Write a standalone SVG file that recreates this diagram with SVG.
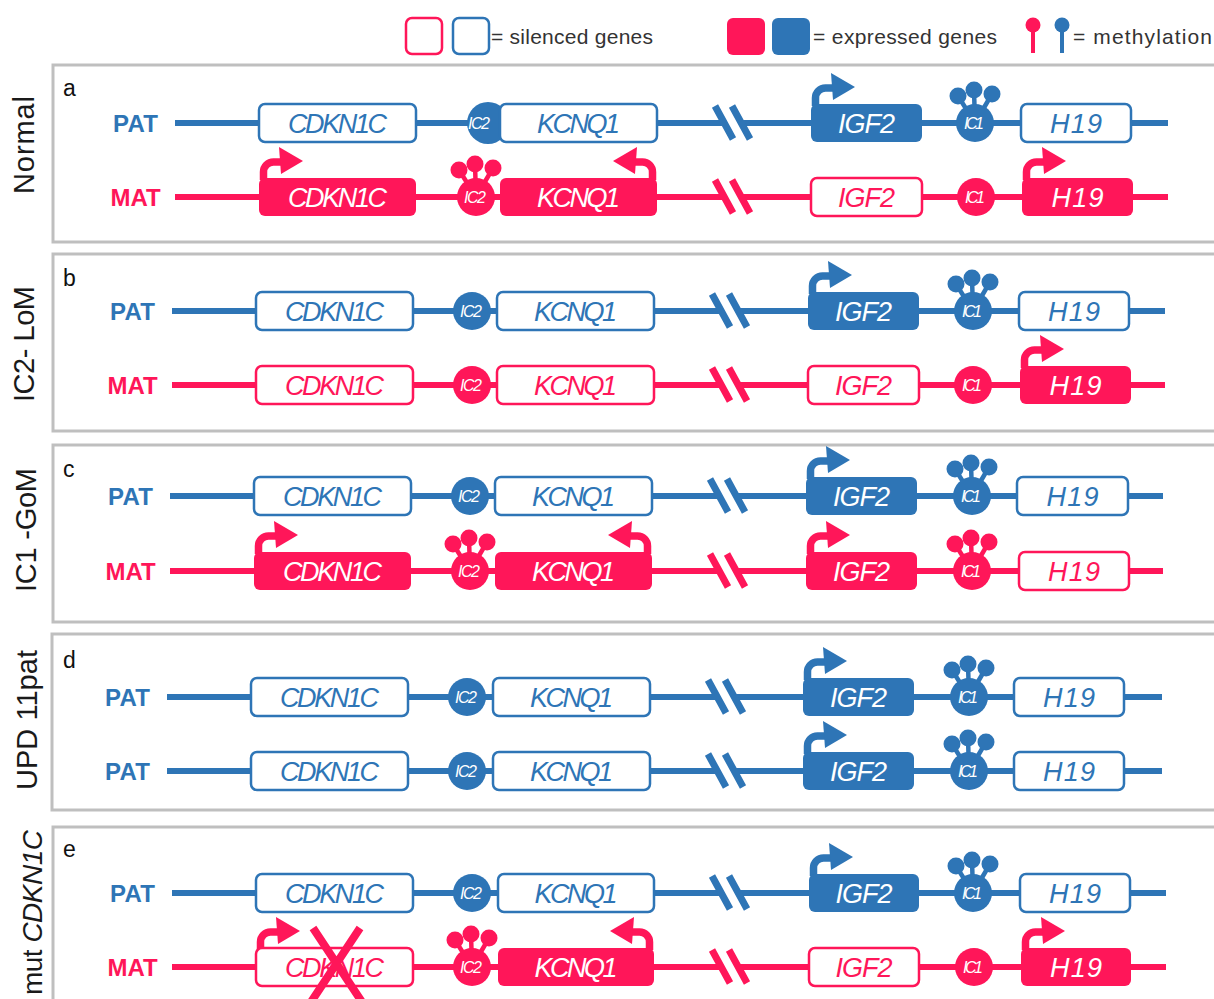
<svg xmlns="http://www.w3.org/2000/svg" xmlns:xlink="http://www.w3.org/1999/xlink" width="1214" height="999" viewBox="0 0 1214 999">
<style>
text{font-family:"Liberation Sans",Arial,sans-serif}
.frame{fill:none;stroke:#BFBFBF;stroke-width:3}
.side{font-size:29px;fill:#1a1a1a;text-anchor:middle}
.plet{font-size:23px;fill:#111}
.lab{font-size:24px;font-weight:bold;text-anchor:middle}
.leg{font-size:21px;fill:#333}
.gt{font-size:27px;font-style:italic;text-anchor:middle}
.ict{font-size:16px;font-style:italic;fill:#fff;text-anchor:middle}
.tb{fill:#2E75B6}.tp{fill:#FF1659}.tw{fill:#fff}
.lb{stroke:#2E75B6;fill:none;stroke-width:6}
.lp{stroke:#FF1659;fill:none;stroke-width:6}
.sb{stroke:#2E75B6;fill:none;stroke-width:7}
.sp{stroke:#FF1659;fill:none;stroke-width:7}
.ob{fill:#fff;stroke:#2E75B6;stroke-width:2.5}
.op{fill:#fff;stroke:#FF1659;stroke-width:2.5}
.fb{fill:#2E75B6}.fp{fill:#FF1659}
.ub{fill:#2E75B6;stroke:#2E75B6}.up{fill:#FF1659;stroke:#FF1659}
</style>
<defs>
<g id="arR"><path d="M4.5,2 V-6 A10,10 0 0 1 14.5,-16 H24" fill="none" stroke-width="7.5"/><polygon points="20,-31 44,-17 22,-4" stroke="none"/></g>
<g id="meth"><path d="M0,0 L-17,-27 M0,0 L-1,-33 M0,0 L17,-29" fill="none" stroke-width="4.5"/><circle cx="-17" cy="-27" r="8.5" stroke="none"/><circle cx="-1" cy="-33" r="8.5" stroke="none"/><circle cx="17" cy="-29" r="8.5" stroke="none"/></g>
</defs>

<!-- Legend -->
<g id="legend">
<rect x="406" y="18" width="36" height="36" rx="6" class="op"/>
<rect x="453" y="18" width="36" height="36" rx="6" class="ob"/>
<text x="491" y="44" class="leg" textLength="162">= silenced genes</text>
<rect x="727" y="18" width="38" height="37" rx="6" class="fp"/>
<rect x="772" y="18" width="38" height="37" rx="6" class="fb"/>
<text x="813" y="44" class="leg" textLength="184">= expressed genes</text>
<line x1="1033" y1="26" x2="1033" y2="53" stroke="#FF1659" stroke-width="4"/>
<circle cx="1033" cy="25" r="7.5" class="fp"/>
<line x1="1062" y1="26" x2="1062" y2="53" stroke="#2E75B6" stroke-width="4"/>
<circle cx="1062" cy="25" r="7.5" class="fb"/>
<text x="1073" y="44" class="leg" textLength="139">= methylation</text>
</g>

<!-- Side labels -->
<g id="side-labels">
<text class="side" transform="translate(34,145) rotate(-90)" textLength="98">Normal</text>
<text class="side" transform="translate(34,344) rotate(-90)" textLength="116">IC2- LoM</text>
<text class="side" transform="translate(36,530) rotate(-90)" textLength="124">IC1 -GoM</text>
<text class="side" transform="translate(37,720) rotate(-90)" textLength="140">UPD 11pat</text>
<text class="side" style="text-anchor:end;font-size:28px" transform="translate(42,830) rotate(-90)" textLength="165">mut <tspan font-style="italic">CDKN1C</tspan></text>
</g>

<!-- Frames -->
<g id="frames">
<rect x="53" y="65" width="1200" height="177" class="frame"/>
<rect x="53" y="254" width="1200" height="177" class="frame"/>
<rect x="53" y="445" width="1200" height="177" class="frame"/>
<rect x="52" y="634" width="1200" height="176" class="frame"/>
<rect x="53" y="827" width="1200" height="200" class="frame"/>
<text x="63" y="96" class="plet">a</text>
<text x="63" y="286" class="plet">b</text>
<text x="63" y="477" class="plet">c</text>
<text x="63" y="668" class="plet">d</text>
<text x="63" y="857" class="plet">e</text>
</g>

<!-- Panel a -->
<g id="panel-a" transform="translate(0,123)">
<g id="a-connectors">
<path class="lb" d="M175,0 H724 M741,0 H1168"/>
<path class="sb" d="M715,-17 L733,16 M732,-17 L750,16"/>
<path class="lp" d="M175,74 H724 M741,74 H1168"/>
<path class="sp" d="M715,57 L733,90 M732,57 L750,90"/>
</g>
<text x="135.5" y="9" class="lab tb" textLength="45">PAT</text>
<text x="135.5" y="83" class="lab tp">MAT</text>
<g id="a-pat-cdkn1c"><rect x="259" y="-19" width="157" height="38" rx="6" class="ob"/><text x="337.5" y="10" class="gt tb" textLength="99">CDKN1C</text></g>
<g id="a-pat-ic2"><circle cx="488" cy="0" r="21" class="fb"/><text x="479" y="5.5" class="ict" textLength="22">IC2</text></g>
<g id="a-pat-kcnq1"><rect x="500" y="-19" width="157" height="38" rx="6" class="ob"/><text x="578.5" y="10" class="gt tb" textLength="83">KCNQ1</text></g>
<g id="a-pat-igf2"><use href="#arR" transform="translate(811,-19)" class="ub"/><rect x="811" y="-19" width="111" height="38" rx="6" class="fb"/><text x="866.5" y="10" class="gt tw" textLength="57">IGF2</text></g>
<g id="a-pat-ic1"><use href="#meth" x="975" y="0" class="ub"/><circle cx="975" cy="0" r="19" class="fb"/><text x="974" y="5.5" class="ict" textLength="20">IC1</text></g>
<g id="a-pat-h19"><rect x="1021" y="-19" width="110" height="38" rx="6" class="ob"/><text x="1076" y="10" class="gt tb" textLength="52">H19</text></g>

<g id="a-mat-cdkn1c"><use href="#arR" transform="translate(259,55)" class="up"/><rect x="259" y="55" width="157" height="38" rx="6" class="fp"/><text x="337.5" y="84" class="gt tw" textLength="99">CDKN1C</text></g>
<g id="a-mat-ic2"><use href="#meth" x="476" y="74" class="up"/><circle cx="476" cy="74" r="19" class="fp"/><text x="475" y="79.5" class="ict" textLength="22">IC2</text></g>
<g id="a-mat-kcnq1"><use href="#arR" transform="translate(657,55) scale(-1,1)" class="up"/><rect x="500" y="55" width="157" height="38" rx="6" class="fp"/><text x="578.5" y="84" class="gt tw" textLength="83">KCNQ1</text></g>
<g id="a-mat-igf2"><rect x="811" y="55" width="111" height="38" rx="6" class="op"/><text x="866.5" y="84" class="gt tp" textLength="57">IGF2</text></g>
<g id="a-mat-ic1"><circle cx="976" cy="74" r="19" class="fp"/><text x="975" y="79.5" class="ict" textLength="20">IC1</text></g>
<g id="a-mat-h19"><use href="#arR" transform="translate(1022,55)" class="up"/><rect x="1022" y="55" width="111" height="38" rx="6" class="fp"/><text x="1077.5" y="84" class="gt tw" textLength="52">H19</text></g>
</g>

<!-- Panel b -->
<g id="panel-b" transform="translate(-3,311)">
<g id="b-connectors">
<path class="lb" d="M175,0 H724 M741,0 H1168"/>
<path class="sb" d="M715,-17 L733,16 M732,-17 L750,16"/>
<path class="lp" d="M175,74 H724 M741,74 H1168"/>
<path class="sp" d="M715,57 L733,90 M732,57 L750,90"/>
</g>
<text x="135.5" y="9" class="lab tb" textLength="45">PAT</text>
<text x="135.5" y="83" class="lab tp">MAT</text>
<g id="b-pat-cdkn1c"><rect x="259" y="-19" width="157" height="38" rx="6" class="ob"/><text x="337.5" y="10" class="gt tb" textLength="99">CDKN1C</text></g>
<g id="b-pat-ic2"><circle cx="475" cy="0" r="19" class="fb"/><text x="474" y="5.5" class="ict" textLength="22">IC2</text></g>
<g id="b-pat-kcnq1"><rect x="500" y="-19" width="157" height="38" rx="6" class="ob"/><text x="578.5" y="10" class="gt tb" textLength="83">KCNQ1</text></g>
<g id="b-pat-igf2"><use href="#arR" transform="translate(811,-19)" class="ub"/><rect x="811" y="-19" width="111" height="38" rx="6" class="fb"/><text x="866.5" y="10" class="gt tw" textLength="57">IGF2</text></g>
<g id="b-pat-ic1"><use href="#meth" x="976" y="0" class="ub"/><circle cx="976" cy="0" r="19" class="fb"/><text x="975" y="5.5" class="ict" textLength="20">IC1</text></g>
<g id="b-pat-h19"><rect x="1022" y="-19" width="110" height="38" rx="6" class="ob"/><text x="1077" y="10" class="gt tb" textLength="52">H19</text></g>

<g id="b-mat-cdkn1c"><rect x="259" y="55" width="157" height="38" rx="6" class="op"/><text x="337.5" y="84" class="gt tp" textLength="99">CDKN1C</text></g>
<g id="b-mat-ic2"><circle cx="475" cy="74" r="19" class="fp"/><text x="474" y="79.5" class="ict" textLength="22">IC2</text></g>
<g id="b-mat-kcnq1"><rect x="500" y="55" width="157" height="38" rx="6" class="op"/><text x="578.5" y="84" class="gt tp" textLength="83">KCNQ1</text></g>
<g id="b-mat-igf2"><rect x="811" y="55" width="111" height="38" rx="6" class="op"/><text x="866.5" y="84" class="gt tp" textLength="57">IGF2</text></g>
<g id="b-mat-ic1"><circle cx="976" cy="74" r="19" class="fp"/><text x="975" y="79.5" class="ict" textLength="20">IC1</text></g>
<g id="b-mat-h19"><use href="#arR" transform="translate(1023,55)" class="up"/><rect x="1023" y="55" width="111" height="38" rx="6" class="fp"/><text x="1078.5" y="84" class="gt tw" textLength="52">H19</text></g>
</g>

<!-- Panel c -->
<g id="panel-c" transform="translate(-5,496)">
<g id="c-connectors">
<path class="lb" d="M175,0 H724 M741,0 H1168"/>
<path class="sb" d="M715,-17 L733,16 M732,-17 L750,16"/>
<path class="lp" d="M175,75 H724 M741,75 H1168"/>
<path class="sp" d="M715,58 L733,91 M732,58 L750,91"/>
</g>
<text x="135.5" y="9" class="lab tb" textLength="45">PAT</text>
<text x="135.5" y="84" class="lab tp">MAT</text>
<g id="c-pat-cdkn1c"><rect x="259" y="-19" width="157" height="38" rx="6" class="ob"/><text x="337.5" y="10" class="gt tb" textLength="99">CDKN1C</text></g>
<g id="c-pat-ic2"><circle cx="475" cy="0" r="19" class="fb"/><text x="474" y="5.5" class="ict" textLength="22">IC2</text></g>
<g id="c-pat-kcnq1"><rect x="500" y="-19" width="157" height="38" rx="6" class="ob"/><text x="578.5" y="10" class="gt tb" textLength="83">KCNQ1</text></g>
<g id="c-pat-igf2"><use href="#arR" transform="translate(811,-19)" class="ub"/><rect x="811" y="-19" width="111" height="38" rx="6" class="fb"/><text x="866.5" y="10" class="gt tw" textLength="57">IGF2</text></g>
<g id="c-pat-ic1"><use href="#meth" x="977" y="0" class="ub"/><circle cx="977" cy="0" r="19" class="fb"/><text x="976" y="5.5" class="ict" textLength="20">IC1</text></g>
<g id="c-pat-h19"><rect x="1022" y="-19" width="111" height="38" rx="6" class="ob"/><text x="1077.5" y="10" class="gt tb" textLength="52">H19</text></g>

<g id="c-mat-cdkn1c"><use href="#arR" transform="translate(259,56)" class="up"/><rect x="259" y="56" width="157" height="38" rx="6" class="fp"/><text x="337.5" y="85" class="gt tw" textLength="99">CDKN1C</text></g>
<g id="c-mat-ic2"><use href="#meth" x="475" y="75" class="up"/><circle cx="475" cy="75" r="19" class="fp"/><text x="474" y="80.5" class="ict" textLength="22">IC2</text></g>
<g id="c-mat-kcnq1"><use href="#arR" transform="translate(657,56) scale(-1,1)" class="up"/><rect x="500" y="56" width="157" height="38" rx="6" class="fp"/><text x="578.5" y="85" class="gt tw" textLength="83">KCNQ1</text></g>
<g id="c-mat-igf2"><use href="#arR" transform="translate(811,56)" class="up"/><rect x="811" y="56" width="111" height="38" rx="6" class="fp"/><text x="866.5" y="85" class="gt tw" textLength="57">IGF2</text></g>
<g id="c-mat-ic1"><use href="#meth" x="977" y="75" class="up"/><circle cx="977" cy="75" r="19" class="fp"/><text x="976" y="80.5" class="ict" textLength="20">IC1</text></g>
<g id="c-mat-h19"><rect x="1024" y="56" width="110" height="38" rx="6" class="op"/><text x="1079" y="85" class="gt tp" textLength="52">H19</text></g>
</g>

<!-- Panel d -->
<g id="panel-d" transform="translate(-7,697)">
<g id="d-connectors">
<path class="lb" d="M174,0 H724 M741,0 H1169"/>
<path class="sb" d="M715,-17 L733,16 M732,-17 L750,16"/>
<path class="lb" d="M174,74 H724 M741,74 H1169"/>
<path class="sb" d="M715,57 L733,90 M732,57 L750,90"/>
</g>
<text x="134.5" y="9" class="lab tb" textLength="45">PAT</text>
<text x="134.5" y="83" class="lab tb" textLength="45">PAT</text>
<g id="d-pat1-cdkn1c"><rect x="258" y="-19" width="157" height="38" rx="6" class="ob"/><text x="336.5" y="10" class="gt tb" textLength="99">CDKN1C</text></g>
<g id="d-pat1-ic2"><circle cx="474" cy="0" r="19" class="fb"/><text x="473" y="5.5" class="ict" textLength="22">IC2</text></g>
<g id="d-pat1-kcnq1"><rect x="500" y="-19" width="157" height="38" rx="6" class="ob"/><text x="578.5" y="10" class="gt tb" textLength="83">KCNQ1</text></g>
<g id="d-pat1-igf2"><use href="#arR" transform="translate(810,-19)" class="ub"/><rect x="810" y="-19" width="111" height="38" rx="6" class="fb"/><text x="865.5" y="10" class="gt tw" textLength="57">IGF2</text></g>
<g id="d-pat1-ic1"><use href="#meth" x="976" y="0" class="ub"/><circle cx="976" cy="0" r="19" class="fb"/><text x="975" y="5.5" class="ict" textLength="20">IC1</text></g>
<g id="d-pat1-h19"><rect x="1021" y="-19" width="110" height="38" rx="6" class="ob"/><text x="1076" y="10" class="gt tb" textLength="52">H19</text></g>

<g id="d-pat2-cdkn1c"><rect x="258" y="55" width="157" height="38" rx="6" class="ob"/><text x="336.5" y="84" class="gt tb" textLength="99">CDKN1C</text></g>
<g id="d-pat2-ic2"><circle cx="474" cy="74" r="19" class="fb"/><text x="473" y="79.5" class="ict" textLength="22">IC2</text></g>
<g id="d-pat2-kcnq1"><rect x="500" y="55" width="157" height="38" rx="6" class="ob"/><text x="578.5" y="84" class="gt tb" textLength="83">KCNQ1</text></g>
<g id="d-pat2-igf2"><use href="#arR" transform="translate(810,55)" class="ub"/><rect x="810" y="55" width="111" height="38" rx="6" class="fb"/><text x="865.5" y="84" class="gt tw" textLength="57">IGF2</text></g>
<g id="d-pat2-ic1"><use href="#meth" x="976" y="74" class="ub"/><circle cx="976" cy="74" r="19" class="fb"/><text x="975" y="79.5" class="ict" textLength="20">IC1</text></g>
<g id="d-pat2-h19"><rect x="1021" y="55" width="110" height="38" rx="6" class="ob"/><text x="1076" y="84" class="gt tb" textLength="52">H19</text></g>
</g>

<!-- Panel e -->
<g id="panel-e" transform="translate(-3,893)">
<g id="e-connectors">
<path class="lb" d="M175,0 H724 M741,0 H1169"/>
<path class="sb" d="M715,-17 L733,16 M732,-17 L750,16"/>
<path class="lp" d="M175,74 H724 M741,74 H1169"/>
<path class="sp" d="M715,57 L733,90 M732,57 L750,90"/>
</g>
<text x="135.5" y="9" class="lab tb" textLength="45">PAT</text>
<text x="135.5" y="83" class="lab tp">MAT</text>
<g id="e-pat-cdkn1c"><rect x="259" y="-19" width="157" height="38" rx="6" class="ob"/><text x="337.5" y="10" class="gt tb" textLength="99">CDKN1C</text></g>
<g id="e-pat-ic2"><circle cx="475" cy="0" r="19" class="fb"/><text x="474" y="5.5" class="ict" textLength="22">IC2</text></g>
<g id="e-pat-kcnq1"><rect x="501" y="-19" width="156" height="38" rx="6" class="ob"/><text x="579" y="10" class="gt tb" textLength="83">KCNQ1</text></g>
<g id="e-pat-igf2"><use href="#arR" transform="translate(812,-19)" class="ub"/><rect x="812" y="-19" width="110" height="38" rx="6" class="fb"/><text x="867" y="10" class="gt tw" textLength="57">IGF2</text></g>
<g id="e-pat-ic1"><use href="#meth" x="976" y="0" class="ub"/><circle cx="976" cy="0" r="19" class="fb"/><text x="975" y="5.5" class="ict" textLength="20">IC1</text></g>
<g id="e-pat-h19"><rect x="1023" y="-19" width="110" height="38" rx="6" class="ob"/><text x="1078" y="10" class="gt tb" textLength="52">H19</text></g>

<g id="e-mat-cdkn1c"><use href="#arR" transform="translate(259,55)" class="up"/><rect x="259" y="55" width="157" height="38" rx="6" class="op"/><text x="337.5" y="84" class="gt tp" textLength="99">CDKN1C</text><path d="M316,35 L365,109 M363,35 L314,109" stroke="#FF1659" stroke-width="8" fill="none"/></g>
<g id="e-mat-ic2"><use href="#meth" x="475" y="74" class="up"/><circle cx="475" cy="74" r="19" class="fp"/><text x="474" y="79.5" class="ict" textLength="22">IC2</text></g>
<g id="e-mat-kcnq1"><use href="#arR" transform="translate(657,55) scale(-1,1)" class="up"/><rect x="501" y="55" width="156" height="38" rx="6" class="fp"/><text x="579" y="84" class="gt tw" textLength="83">KCNQ1</text></g>
<g id="e-mat-igf2"><rect x="812" y="55" width="110" height="38" rx="6" class="op"/><text x="867" y="84" class="gt tp" textLength="57">IGF2</text></g>
<g id="e-mat-ic1"><circle cx="977" cy="74" r="19" class="fp"/><text x="976" y="79.5" class="ict" textLength="20">IC1</text></g>
<g id="e-mat-h19"><use href="#arR" transform="translate(1024,55)" class="up"/><rect x="1024" y="55" width="110" height="38" rx="6" class="fp"/><text x="1079" y="84" class="gt tw" textLength="52">H19</text></g>
</g>
</svg>
